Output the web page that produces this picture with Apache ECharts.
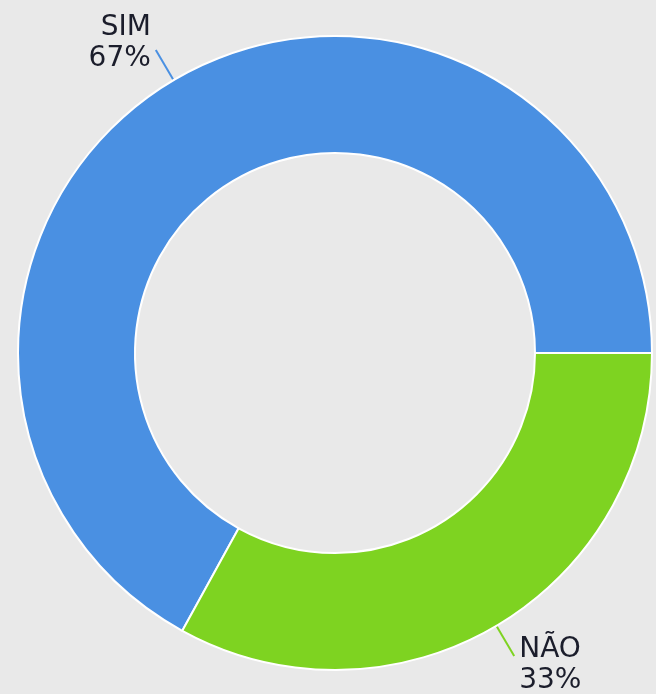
<!DOCTYPE html>
<html>
<head>
<meta charset="utf-8">
<style>
    html, body { margin: 0; padding: 0; background: #e9e9e9; }
    #chart { width: 656px; height: 694px; }
</style>
<script src="https://cdn.jsdelivr.net/npm/echarts@6/dist/echarts.min.js"></script>
</head>
<body>
<div id="chart"></div>
<script>
var categories = ['SIM', 'NÃO'];
var values = [67, 33];
var colors = ['#4a90e2', '#7ed321'];

(function () {
    var myChart = echarts.init(document.getElementById('chart'));
    var data = categories.map(function (name, i) {
        return { name: name, value: values[i] };
    });
    var option = {
        backgroundColor: '#e9e9e9',
        animation: false,
        color: colors,
        series: [{
            type: 'pie',
            center: [335, 353],
            radius: [200, 317],
            startAngle: 0,
            clockwise: false,
            avoidLabelOverlap: false,
            itemStyle: {
                borderColor: '#ffffff',
                borderWidth: 2
            },
            label: {
                show: true,
                position: 'outside',
                formatter: '{b}\n{d}%',
                fontFamily: 'DejaVu Sans',
                fontSize: 28,
                lineHeight: 31,
                color: '#1b1d2b',
                distanceToLabelLine: 5
            },
            labelLine: {
                show: true,
                length: 35,
                length2: 0,
                lineStyle: { width: 2 }
            },
            // upper label sits a bit above its line end, lower one a bit below
            labelLayout: function (params) {
                return { dy: params.dataIndex === 0 ? -7 : 9 };
            },
            emphasis: { disabled: true },
            data: data
        }]
    };
    myChart.setOption(option);
})();
</script>
</body>
</html>
